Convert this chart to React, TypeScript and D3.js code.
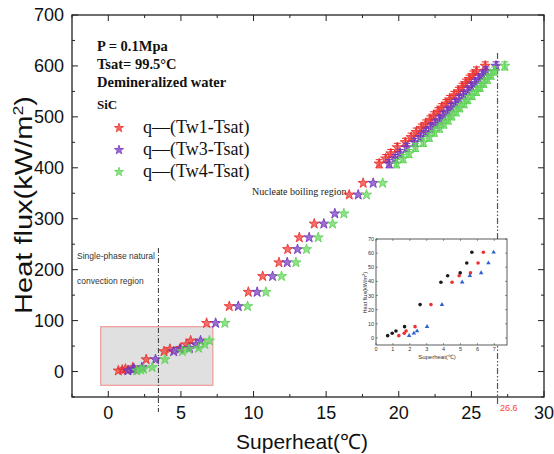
import React from "react";
import * as d3 from "d3";

const W = 554;
const H = 454;

// Axis ticks
const xTicks = [0, 5, 10, 15, 20, 25, 30];
const xMinor = [-2.5, 2.5, 7.5, 12.5, 17.5, 22.5, 27.5];
const yTicks = [0, 100, 200, 300, 400, 500, 600, 700];
const yMinor = [-50, 50, 150, 250, 350, 450, 550, 650];

// Low heat flux region (same data in inset)
const lowY = [1.6, 3.3, 4.9, 8, 23.6, 39.4, 44, 46, 53, 60.6];
const lowTw1X = [0.69, 0.96, 1.18, 1.69, 2.61, 3.84, 4.24, 4.98, 5.37, 5.67];
const lowTw3X = [1.35, 1.67, 1.78, 2.31, 3.25, 4.5, 4.92, 5.59, 6.04, 6.35];
const lowTw4X = [1.96, 2.24, 2.43, 3.02, 3.9, 5.1, 5.55, 6.22, 6.65, 6.96];

// Nucleate boiling region
const tw1Y = [95, 128, 156, 187, 214, 240, 263, 290, 347, 370, 408, 418, 428, 440, 450, 460, 470, 478, 486, 494, 502, 510, 518, 526, 534, 542, 550, 558, 566, 574, 582, 590, 600];
const tw1X = [6.77, 8.33, 9.64, 10.63, 11.75, 12.35, 13.15, 14.18, 16.59, 17.55, 18.65, 19.1, 19.45, 19.9, 20.45, 20.85, 21.2, 21.55, 21.85, 22.15, 22.4, 22.7, 22.95, 23.25, 23.5, 23.8, 24.1, 24.35, 24.6, 24.85, 25.1, 25.35, 25.95];
const tw34Y = [95, 128, 156, 187, 214, 240, 263, 290, 310, 347, 370, 408, 418, 428, 440, 450, 460, 470, 478, 486, 494, 502, 510, 518, 526, 534, 542, 550, 558, 566, 574, 582, 590, 600];
const tw3X = [7.39, 8.95, 10.25, 11.31, 12.32, 13.03, 13.83, 14.84, 15.6, 17.21, 18.24, 19.34, 19.75, 20.1, 20.55, 21.1, 21.5, 21.85, 22.2, 22.5, 22.8, 23.05, 23.35, 23.6, 23.9, 24.15, 24.45, 24.75, 25.0, 25.25, 25.5, 25.75, 26.0, 26.7];
const tw4X = [8.03, 9.59, 10.85, 11.93, 12.92, 13.65, 14.45, 15.44, 16.22, 17.78, 18.89, 19.85, 20.3, 20.7, 21.15, 21.7, 22.1, 22.45, 22.8, 23.1, 23.4, 23.65, 23.95, 24.2, 24.5, 24.75, 25.05, 25.35, 25.6, 25.85, 26.1, 26.35, 26.6, 27.3];

const errY = 8; // error bar half-height in dense region (kW/m2)

const seriesNames = ["q\u2014(Tw1-Tsat)", "q\u2014(Tw3-Tsat)", "q\u2014(Tw4-Tsat)"];
const seriesColors = ["#ec3330", "#7438be", "#62d45a"];

const conditionLines = ["P = 0.1Mpa", "Tsat= 99.5\u00b0C", "Demineralized water"];

// Region markers
const singlePhaseEnd = 3.45;
const boilingEndPos = 26.8;
const boilingEndLabel = "26.6";
const boxX = [-0.52, 7.2];
const boxY = [-27, 88];

// Inset
const inXTicks = [0, 1, 2, 3, 4, 5, 6, 7];
const inYTicks = [0, 10, 20, 30, 40, 50, 60, 70];

export default function App() {
  const x = d3.scaleLinear().domain([-2.5, 30]).range([72, 544]);
  const y = d3.scaleLinear().domain([-50, 700]).range([397, 15]);
  const ix = d3.scaleLinear().domain([0, 7.75]).range([376, 507]);
  const iy = d3.scaleLinear().domain([-5, 70]).range([345, 239]);

  const star = d3.symbol().type(d3.symbolStar).size(32)() as string;
  const starLeg = d3.symbol().type(d3.symbolStar).size(26)() as string;
  const tri = d3.symbol().type(d3.symbolTriangle).size(9)() as string;

  const series = [
    { xs: lowTw1X.concat(tw1X), ys: lowY.concat(tw1Y) },
    { xs: lowTw3X.concat(tw3X), ys: lowY.concat(tw34Y) },
    { xs: lowTw4X.concat(tw4X), ys: lowY.concat(tw34Y) },
  ];

  const sans = "'Liberation Sans', Arial, sans-serif";
  const serif = "'Liberation Serif', 'Times New Roman', serif";

  const [x0, x1] = x.range();
  const [y0, y1] = y.range();

  return (
    <svg width={W} height={H} style={{ position: "absolute", left: 0, top: 0, background: "#fff" }}>
      <rect x={0} y={0} width={W} height={H} fill="#fff" />
      {/* gray box */}
      <rect
        x={x(boxX[0])}
        y={y(boxY[1])}
        width={x(boxX[1]) - x(boxX[0])}
        height={y(boxY[0]) - y(boxY[1])}
        fill="#e0e0e0"
        stroke="#f09a9a"
        strokeWidth={1.2}
      />
      {/* frame */}
      <rect x={x0} y={y1} width={x1 - x0} height={y0 - y1} fill="none" stroke="#222" strokeWidth={1.3} />
      {/* ticks */}
      {xTicks.map((t) => (
        <g key={"xt" + t}>
          <line x1={x(t)} x2={x(t)} y1={y0} y2={y0 - 6} stroke="#222" />
          <line x1={x(t)} x2={x(t)} y1={y1} y2={y1 + 6} stroke="#222" />
          <text x={x(t)} y={419} textAnchor="middle" fontSize={18} fontFamily={sans} fill="#111">
            {t}
          </text>
        </g>
      ))}
      {xMinor.map((t) => (
        <g key={"xm" + t}>
          <line x1={x(t)} x2={x(t)} y1={y0} y2={y0 - 3} stroke="#222" />
          <line x1={x(t)} x2={x(t)} y1={y1} y2={y1 + 3} stroke="#222" />
        </g>
      ))}
      {yTicks.map((t) => (
        <g key={"yt" + t}>
          <line x1={x0} x2={x0 + 6} y1={y(t)} y2={y(t)} stroke="#222" />
          <line x1={x1} x2={x1 - 6} y1={y(t)} y2={y(t)} stroke="#222" />
          <text x={64} y={y(t) + 6} textAnchor="end" fontSize={18} fontFamily={sans} fill="#111">
            {t}
          </text>
        </g>
      ))}
      {yMinor.map((t) => (
        <g key={"ym" + t}>
          <line x1={x0} x2={x0 + 3} y1={y(t)} y2={y(t)} stroke="#222" />
          <line x1={x1} x2={x1 - 3} y1={y(t)} y2={y(t)} stroke="#222" />
        </g>
      ))}
      {/* axis titles */}
      <text
        transform={`translate(32,${(y1 + y0) / 2 - 1}) rotate(-90)`}
        textAnchor="middle"
        fontSize={23}
        fontFamily={sans}
        fill="#111"
        textLength={218}
        lengthAdjust="spacingAndGlyphs"
      >
        Heat flux(kW/m<tspan dy={-9} fontSize={14}>2</tspan>
        <tspan dy={9}>)</tspan>
      </text>
      <text x={302} y={449} textAnchor="middle" fontSize={21} fontFamily={sans} fill="#111">
        Superheat(℃)
      </text>

      {/* region lines */}
      <line
        x1={x(singlePhaseEnd)}
        x2={x(singlePhaseEnd)}
        y1={248}
        y2={412}
        stroke="#333"
        strokeWidth={1}
        strokeDasharray="5,2,1,2"
      />
      <line
        x1={x(boilingEndPos)}
        x2={x(boilingEndPos)}
        y1={53}
        y2={404}
        stroke="#555"
        strokeWidth={1.2}
        strokeDasharray="6,2,1.5,2,1.5,2"
      />
      <text x={x(boilingEndPos) + 2.5} y={411} fontSize={9} fontFamily={sans} fill="#ff3b3b">
        {boilingEndLabel}
      </text>

      {/* region labels */}
      <text x={77} y={259} fontSize={8.5} fontFamily={sans} fill="#333">
        Single-phase natural
      </text>
      <text x={77} y={284} fontSize={8.5} fontFamily={sans} fill="#333">
        convection region
      </text>
      <text x={252} y={195} fontSize={10} fontFamily={serif} fill="#222">
        Nucleate boiling region
      </text>

      {/* data */}
      {series.map((s, si) => (
        <g key={"s" + si}>
          {s.xs.map((xv, i) => {
            const yv = s.ys[i];
            const cx = x(xv);
            const cy = y(yv);
            const showErr = yv >= 400;
            return (
              <g key={i}>
                {showErr && (
                  <g stroke={seriesColors[si]} strokeWidth={1.1}>
                    <line x1={cx} x2={cx} y1={y(yv + errY)} y2={y(yv - errY)} />
                    <line x1={cx - 3.5} x2={cx + 3.5} y1={y(yv + errY)} y2={y(yv + errY)} />
                    <line x1={cx - 3.5} x2={cx + 3.5} y1={y(yv - errY)} y2={y(yv - errY)} />
                  </g>
                )}
                <path
                  d={star}
                  transform={`translate(${cx},${cy})`}
                  fill={seriesColors[si]}
                  fillOpacity={0.7}
                  stroke={seriesColors[si]}
                  strokeWidth={0.9}
                />
              </g>
            );
          })}
        </g>
      ))}

      {/* legend / conditions */}
      {conditionLines.map((t, i) => (
        <text key={t} x={97} y={51 + i * 17.8} fontSize={14.5} fontWeight="bold" fontFamily={serif} fill="#111">
          {t}
        </text>
      ))}
      <text x={97} y={109} fontSize={13} fontWeight="bold" fontFamily={serif} fill="#111">
        SiC
      </text>
      {seriesNames.map((n, i) => (
        <g key={n}>
          <path
            d={starLeg}
            transform={`translate(119,${128 + i * 22})`}
            fill={seriesColors[i]}
            fillOpacity={0.75}
            stroke={seriesColors[i]}
            strokeWidth={0.8}
          />
          <text x={143} y={133 + i * 22} fontSize={18} fontFamily={serif} fill="#111">
            {n}
          </text>
        </g>
      ))}

      {/* inset */}
      <g>
        <rect x={ix(0)} y={iy(70)} width={ix(7.75) - ix(0)} height={iy(-5) - iy(70)} fill="#fff" stroke="#333" strokeWidth={0.8} />
        {inXTicks.map((t) => (
          <g key={"ix" + t}>
            <line x1={ix(t)} x2={ix(t)} y1={iy(-5)} y2={iy(-5) - 2} stroke="#333" strokeWidth={0.5} />
            <line x1={ix(t)} x2={ix(t)} y1={iy(70)} y2={iy(70) + 2} stroke="#333" strokeWidth={0.5} />
            <text x={ix(t)} y={351} textAnchor="middle" fontSize={5.5} fontFamily={sans} fill="#333">
              {t}
            </text>
          </g>
        ))}
        {inYTicks.map((t) => (
          <g key={"iy" + t}>
            <line x1={ix(0)} x2={ix(0) + 2} y1={iy(t)} y2={iy(t)} stroke="#333" strokeWidth={0.5} />
            <line x1={ix(7.75)} x2={ix(7.75) - 2} y1={iy(t)} y2={iy(t)} stroke="#333" strokeWidth={0.5} />
            <text x={374} y={iy(t) + 2} textAnchor="end" fontSize={5.5} fontFamily={sans} fill="#333">
              {t}
            </text>
          </g>
        ))}
        <text transform={`translate(367,${iy(32)}) rotate(-90)`} textAnchor="middle" fontSize={5.5} fontFamily={sans} fill="#333">
          Heat flux(kW/m<tspan dy={-2} fontSize={4}>2</tspan>
          <tspan dy={2}>)</tspan>
        </text>
        <text x={437} y={359} textAnchor="middle" fontSize={6} fontFamily={sans} fill="#333">
          Superheat(℃)
        </text>
        {lowTw1X.map((xv, i) => (
          <circle key={"ib" + i} cx={ix(xv)} cy={iy(lowY[i])} r={1.8} fill="#1a1a1a" />
        ))}
        {lowTw3X.map((xv, i) => (
          <circle key={"ir" + i} cx={ix(xv)} cy={iy(lowY[i])} r={1.8} fill="#f03030" />
        ))}
        {lowTw4X.map((xv, i) => (
          <path key={"it" + i} d={tri} transform={`translate(${ix(xv)},${iy(lowY[i])})`} fill="#2f62d0" />
        ))}
      </g>
    </svg>
  );
}
